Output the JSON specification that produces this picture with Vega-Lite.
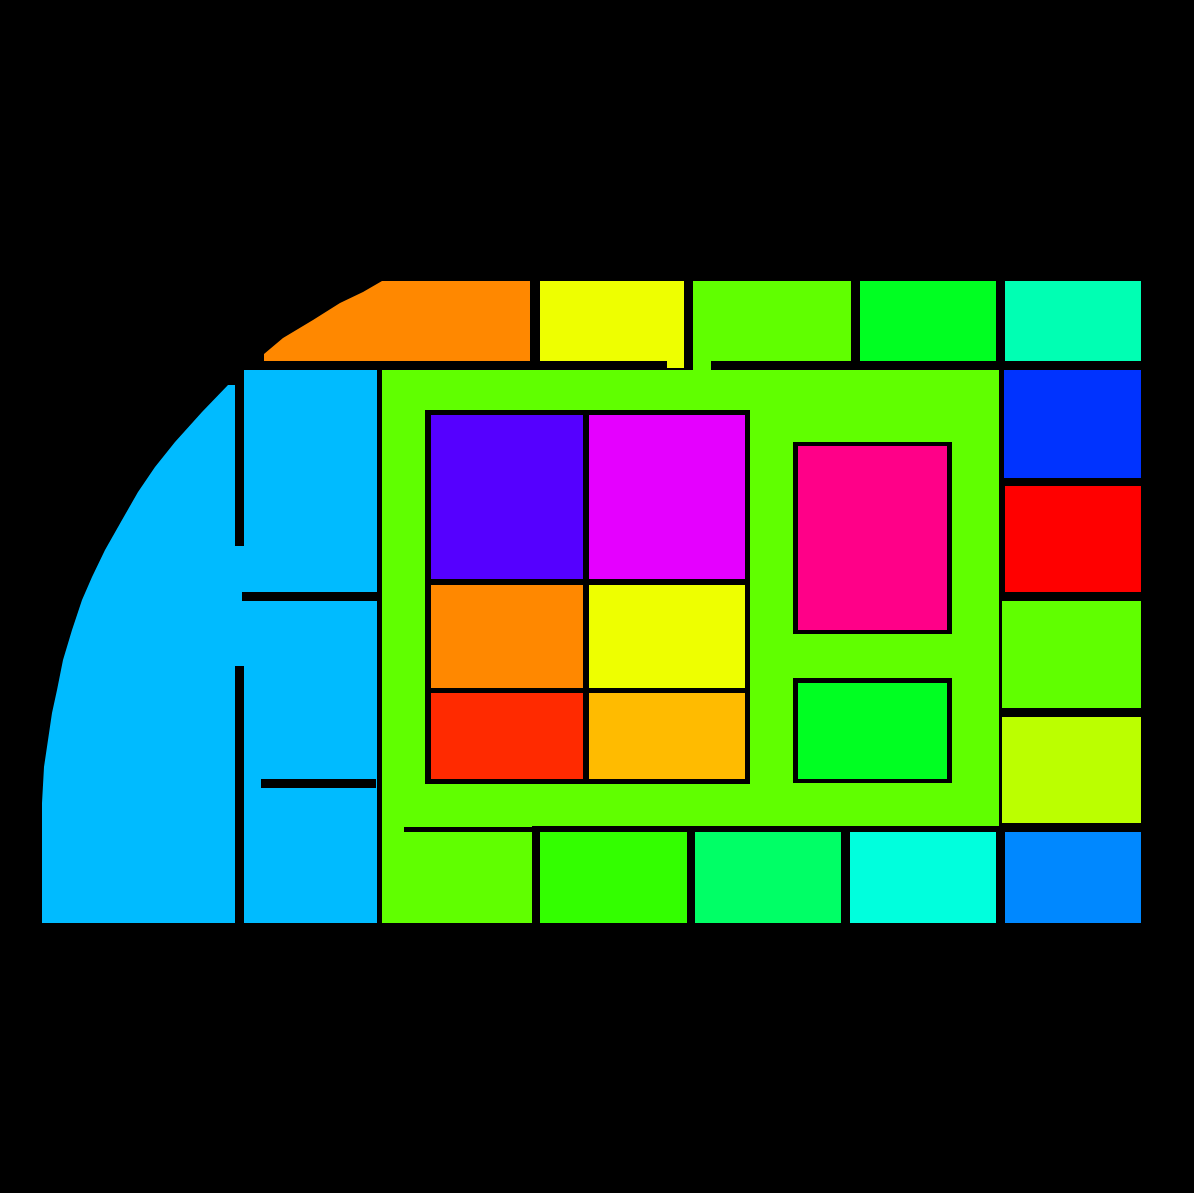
{
  "$schema": "https://vega.github.io/schema/vega-lite/v6.json",
  "width": 1194,
  "height": 1193,
  "autosize": {"type": "fit", "contains": "padding"},
  "padding": 0,
  "background": "#000000",
  "config": {"view": {"stroke": null}},
  "datasets": {
    "curves": [
      {"shape": "arc", "c": "sky", "x": 42, "y": 803, "y2": 923},
      {"shape": "arc", "c": "sky", "x": 44, "y": 767, "y2": 923},
      {"shape": "arc", "c": "sky", "x": 48, "y": 740, "y2": 923},
      {"shape": "arc", "c": "sky", "x": 52, "y": 713, "y2": 923},
      {"shape": "arc", "c": "sky", "x": 57, "y": 690, "y2": 923},
      {"shape": "arc", "c": "sky", "x": 63, "y": 660, "y2": 923},
      {"shape": "arc", "c": "sky", "x": 72, "y": 630, "y2": 923},
      {"shape": "arc", "c": "sky", "x": 82, "y": 600, "y2": 923},
      {"shape": "arc", "c": "sky", "x": 92, "y": 577, "y2": 923},
      {"shape": "arc", "c": "sky", "x": 105, "y": 550, "y2": 923},
      {"shape": "arc", "c": "sky", "x": 122, "y": 520, "y2": 923},
      {"shape": "arc", "c": "sky", "x": 138, "y": 492, "y2": 923},
      {"shape": "arc", "c": "sky", "x": 155, "y": 467, "y2": 923},
      {"shape": "arc", "c": "sky", "x": 175, "y": 442, "y2": 923},
      {"shape": "arc", "c": "sky", "x": 202, "y": 412, "y2": 923},
      {"shape": "arc", "c": "sky", "x": 228, "y": 385, "y2": 923},
      {"shape": "arc", "c": "sky", "x": 235, "y": 385, "y2": 923},
      {"shape": "cap", "c": "orange", "x": 264, "y": 354, "y2": 361},
      {"shape": "cap", "c": "orange", "x": 283, "y": 338, "y2": 361},
      {"shape": "cap", "c": "orange", "x": 313, "y": 320, "y2": 361},
      {"shape": "cap", "c": "orange", "x": 340, "y": 303, "y2": 361},
      {"shape": "cap", "c": "orange", "x": 363, "y": 292, "y2": 361},
      {"shape": "cap", "c": "orange", "x": 382, "y": 281, "y2": 361},
      {"shape": "cap", "c": "orange", "x": 530, "y": 281, "y2": 361}
    ],
    "blocks": [
      {"c": "yellow", "x": 540, "x2": 684, "y": 281, "y2": 361},
      {"c": "yellow", "x": 667, "x2": 684, "y": 361, "y2": 368},
      {"c": "lime", "x": 693, "x2": 851, "y": 281, "y2": 361},
      {"c": "lime", "x": 693, "x2": 711, "y": 361, "y2": 370},
      {"c": "green", "x": 860, "x2": 996, "y": 281, "y2": 361},
      {"c": "teal", "x": 1005, "x2": 1141, "y": 281, "y2": 361},
      {"c": "sky", "x": 235, "x2": 377, "y": 370, "y2": 923},
      {"c": "lime", "x": 382, "x2": 999, "y": 370, "y2": 826},
      {"c": "lime", "x": 382, "x2": 532, "y": 826, "y2": 923},
      {"c": "blue", "x": 1004, "x2": 1141, "y": 370, "y2": 478},
      {"c": "red", "x": 1005, "x2": 1141, "y": 486, "y2": 592},
      {"c": "lime", "x": 1002, "x2": 1141, "y": 601, "y2": 708},
      {"c": "chartreuse", "x": 1002, "x2": 1141, "y": 717, "y2": 823},
      {"c": "azure", "x": 1005, "x2": 1141, "y": 832, "y2": 923},
      {"c": "grass", "x": 540, "x2": 687, "y": 832, "y2": 923},
      {"c": "spring", "x": 695, "x2": 841, "y": 832, "y2": 923},
      {"c": "cyan", "x": 850, "x2": 996, "y": 832, "y2": 923},
      {"c": "black", "x": 425, "x2": 750, "y": 410, "y2": 784},
      {"c": "violet", "x": 431, "x2": 583, "y": 415, "y2": 579},
      {"c": "magenta", "x": 589, "x2": 745, "y": 415, "y2": 579},
      {"c": "orange", "x": 431, "x2": 583, "y": 585, "y2": 688},
      {"c": "yellow", "x": 589, "x2": 745, "y": 585, "y2": 688},
      {"c": "vermilion", "x": 431, "x2": 583, "y": 693, "y2": 779},
      {"c": "amber", "x": 589, "x2": 745, "y": 693, "y2": 779},
      {"c": "black", "x": 793, "x2": 952, "y": 442, "y2": 634},
      {"c": "pink", "x": 798, "x2": 947, "y": 446, "y2": 630},
      {"c": "black", "x": 793, "x2": 952, "y": 678, "y2": 783},
      {"c": "green", "x": 798, "x2": 947, "y": 683, "y2": 779},
      {"c": "black", "x": 235, "x2": 244, "y": 370, "y2": 546},
      {"c": "black", "x": 235, "x2": 244, "y": 666, "y2": 923},
      {"c": "black", "x": 242, "x2": 377, "y": 592, "y2": 601},
      {"c": "black", "x": 261, "x2": 376, "y": 779, "y2": 788},
      {"c": "black", "x": 404, "x2": 532, "y": 827, "y2": 832}
    ]
  },
  "layer": [
    {
      "data": {"name": "curves"},
      "mark": {"type": "area", "interpolate": "linear"},
      "encoding": {
        "x": {"field": "x", "type": "quantitative", "axis": null, "scale": {"domain": [0, 1194], "nice": false, "zero": false}},
        "y": {"field": "y", "type": "quantitative", "axis": null, "stack": null, "scale": {"domain": [0, 1193], "nice": false, "zero": false, "reverse": true}},
        "y2": {"field": "y2"},
        "detail": {"field": "shape", "type": "nominal"},
        "color": {"field": "c", "type": "nominal", "legend": null}
      }
    },
    {
      "data": {"name": "blocks"},
      "mark": {"type": "rect"},
      "encoding": {
        "x": {"field": "x", "type": "quantitative", "axis": null},
        "x2": {"field": "x2"},
        "y": {"field": "y", "type": "quantitative", "axis": null},
        "y2": {"field": "y2"},
        "color": {
          "field": "c",
          "type": "nominal",
          "legend": null,
          "scale": {
            "domain": ["sky", "orange", "yellow", "lime", "green", "teal", "blue", "red", "chartreuse", "azure", "grass", "spring", "cyan", "black", "violet", "magenta", "vermilion", "amber", "pink"],
            "range": ["#00BBFF", "#FF8800", "#EEFF00", "#60FF00", "#00FF22", "#00FFB3", "#0033FF", "#FF0000", "#BBFF00", "#0088FF", "#33FF00", "#00FF66", "#00FFDD", "#000000", "#5500FF", "#E500FF", "#FF2A00", "#FFBB00", "#FF0088"]
          }
        }
      }
    }
  ]
}
